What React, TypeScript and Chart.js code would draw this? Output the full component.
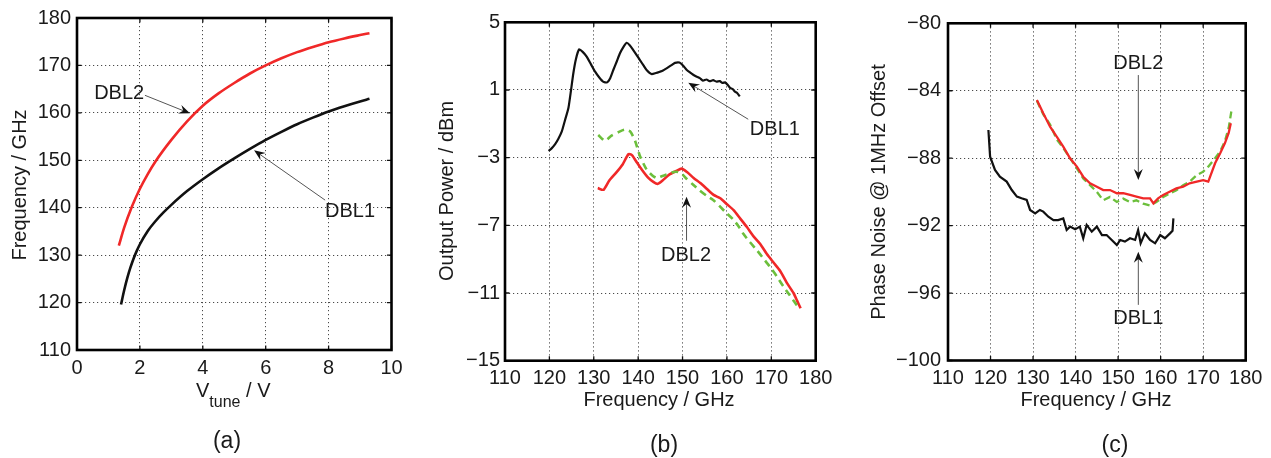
import React, { useEffect, useRef } from 'react';
import { Chart, registerables } from 'chart.js';

Chart.register(...registerables);

const FONT = '"Liberation Sans", Arial, Helvetica, sans-serif';
const TXT = '#1a1a1a';
const RED = '#f02828';
const GREEN = '#6cbf3c';
const BLACK = '#111111';
const GRID = '#4a4a4a';

// ---------- Panel (a): tuning curves ----------
const aXTicks = [0, 2, 4, 6, 8, 10];
const aYTicks = [110, 120, 130, 140, 150, 160, 170, 180];
const aDBL1V = [1.4, 1.5, 1.6, 1.7, 1.8, 1.9, 2.0, 2.25, 2.5, 2.75, 3.0, 3.5, 4.0, 4.5, 5.0, 5.5, 6.0, 6.5, 7.0, 7.5, 8.0, 8.5, 9.0, 9.3];
const aDBL1F = [119.6, 122.6, 125.2, 127.4, 129.3, 130.9, 132.3, 135.1, 137.2, 139.0, 140.6, 143.5, 146.0, 148.3, 150.4, 152.4, 154.3, 156.0, 157.6, 159.0, 160.3, 161.4, 162.4, 162.95];
const aDBL2V = [1.33, 1.5, 1.75, 2.0, 2.25, 2.5, 3.0, 3.5, 4.0, 4.5, 5.0, 5.5, 6.0, 6.5, 7.0, 7.5, 8.0, 8.5, 9.0, 9.3];
const aDBL2F = [132.0, 135.8, 140.3, 144.0, 147.1, 149.8, 154.3, 158.2, 161.5, 164.1, 166.3, 168.3, 170.0, 171.5, 172.8, 173.9, 174.9, 175.7, 176.4, 176.8];
const aNotes = [
  { text: 'DBL2', x: 1.34, y: 164.1, from: [2.16, 163.7], to: [3.59, 159.9] },
  { text: 'DBL1', x: 8.68, y: 139.1, from: [7.89, 141.6], to: [5.63, 152.1] },
];

// ---------- Panel (b): output power ----------
const freqTicks = [110, 120, 130, 140, 150, 160, 170, 180];
const bYTicks = [-15, -11, -7, -3, 1, 5];
const bDBL1F = [119.8, 120.5, 121.3, 122.0, 122.8, 123.5, 124.3, 125.4, 126.0, 126.7, 127.5, 128.4, 129.4, 130.3, 131.2, 132.1, 133.0,
  133.7, 134.4, 135.2, 135.9, 136.7, 137.4, 138.1, 138.9, 139.7, 140.4, 141.2, 141.9, 143.0, 144.0, 144.9, 145.6, 146.4, 147.4, 148.3, 149.3,
  150.1, 150.9, 151.6, 152.4, 153.1, 153.9, 154.6, 155.4, 156.1, 156.9, 157.6, 158.4, 159.0, 159.6, 160.2, 160.7, 161.3, 161.8, 162.3, 162.9];
const bDBL1P = [-2.6, -2.45, -2.2, -1.9, -1.45, -0.8, -0.05, 1.99, 2.85, 3.4, 3.25, 2.97, 2.5, 2.08, 1.75, 1.49, 1.45,
  1.7, 2.18, 2.7, 3.17, 3.55, 3.79, 3.65, 3.36, 3.05, 2.77, 2.45, 2.18, 1.94, 2.0, 2.08, 2.15, 2.28, 2.45, 2.6, 2.62,
  2.45, 2.2, 2.05, 1.9, 1.8, 1.7, 1.55, 1.62, 1.52, 1.58, 1.5, 1.52, 1.42, 1.45, 1.3, 1.12, 1.05, 0.9, 0.82, 0.62];
const bDBL2F = [130.9, 132.2, 133.5, 135.0, 136.5, 137.8, 138.6, 139.5, 140.8, 142.3, 143.5, 144.4, 145.5, 147.0, 148.5, 149.8, 151.0,
  152.5, 154.0, 155.5, 157.0, 158.5, 160.0, 161.5, 163.0, 164.5, 166.0, 167.5, 169.0, 170.5, 172.0, 173.5, 175.0, 175.8, 176.6];
const bDBL2P = [-4.8, -4.9, -4.35, -3.9, -3.4, -2.8, -2.85, -3.2, -3.7, -4.2, -4.45, -4.55, -4.35, -4.0, -3.8, -3.65, -3.85,
  -4.2, -4.5, -4.85, -5.2, -5.4, -5.75, -6.1, -6.6, -7.1, -7.65, -8.1, -8.7, -9.2, -9.7, -10.4, -11.0, -11.45, -11.9];
const bSimF = [131.0, 132.5, 134.0, 135.5, 136.9, 138.2, 139.3, 140.4, 141.9, 143.2, 144.2, 145.3, 146.4, 148.0, 149.0, 150.0, 150.9,
  152.4, 153.9, 155.4, 156.9, 158.3, 159.6, 161.4, 162.6, 163.7, 165.2, 166.7, 168.2, 169.7, 171.2, 172.7, 174.2, 175.7, 176.4];
const bSimP = [-1.66, -2.0, -1.7, -1.5, -1.35, -1.45, -2.0, -2.9, -3.7, -4.05, -4.2, -4.1, -4.0, -3.85, -3.85, -4.0, -4.25,
  -4.6, -4.95, -5.25, -5.5, -5.85, -6.2, -6.65, -7.05, -7.5, -8.0, -8.45, -8.95, -9.45, -10.0, -10.6, -11.15, -11.7, -11.9];
const bNotes = [
  { text: 'DBL1', x: 170.8, y: -1.31, from: [164.8, -0.73], to: [151.3, 1.43] },
  { text: 'DBL2', x: 150.8, y: -8.81, from: [150.9, -7.91], to: [150.9, -5.31] },
];

// ---------- Panel (c): phase noise ----------
const cYTicks = [-100, -96, -92, -88, -84, -80];
const cDBL1F = [119.5, 119.9, 121.05, 122.2, 123.8, 125.0, 126.2, 127.3, 128.5, 129.3, 130.5, 131.6, 132.4, 133.6, 134.8, 135.9, 137.1,
  137.9, 138.7, 139.9, 141.0, 141.8, 142.6, 143.8, 145.0, 146.2, 147.3, 148.5, 149.7, 150.5, 151.6, 152.8, 154.0, 154.7, 155.3, 156.3,
  157.5, 158.7, 159.9, 161.0, 162.2, 162.8, 163.0];
const cDBL1N = [-86.33, -87.91, -88.7, -89.1, -89.39, -89.89, -90.28, -90.38, -90.48, -91.07, -91.27, -91.07, -91.17, -91.47, -91.67, -91.67, -91.57,
  -92.26, -92.06, -92.22, -92.06, -92.75, -91.96, -92.36, -92.06, -92.56, -92.56, -92.85, -93.15, -92.85, -92.95, -92.75, -92.85, -92.26, -93.05, -92.46,
  -92.85, -93.05, -92.56, -92.75, -92.46, -92.3, -91.57];
const cDBL2F = [130.9, 132.4, 134.0, 135.6, 137.1, 138.7, 140.3, 141.8, 143.4, 145.0, 146.5, 148.1, 149.7, 151.2, 152.8, 154.3, 155.9,
  157.5, 158.3, 159.4, 160.6, 162.1, 163.7, 165.3, 166.8, 168.5, 170.0, 171.2, 172.8, 174.0, 175.1, 176.0, 176.5];
const cDBL2N = [-84.55, -85.34, -86.13, -86.73, -87.32, -88.01, -88.5, -89.1, -89.49, -89.69, -89.89, -89.89, -90.08, -90.08, -90.18, -90.28, -90.38,
  -90.38, -90.68, -90.38, -90.18, -89.99, -89.79, -89.69, -89.49, -89.39, -89.3, -89.39, -88.3, -87.71, -87.12, -86.5, -85.93];
const cSimF = [130.9, 132.4, 134.0, 135.6, 137.1, 138.7, 140.3, 141.8, 143.4, 145.0, 146.5, 148.1, 149.7, 151.2, 152.8, 154.3, 155.9,
  157.5, 159.0, 160.6, 162.1, 163.7, 165.3, 166.8, 168.5, 170.0, 171.2, 172.8, 174.0, 175.1, 176.0, 176.7];
const cSimN = [-84.6, -85.4, -86.0, -86.9, -87.4, -88.0, -88.6, -89.2, -89.6, -90.0, -90.5, -90.3, -90.6, -90.4, -90.6, -90.5, -90.7,
  -90.8, -90.6, -90.3, -90.1, -89.9, -89.6, -89.4, -89.0, -88.8, -88.5, -88.0, -87.6, -87.0, -86.2, -85.1];
const cNotes = [
  { text: 'DBL2', x: 154.75, y: -82.4, from: [154.75, -83.07], to: [154.75, -89.29] },
  { text: 'DBL1', x: 154.75, y: -97.5, from: [154.75, -96.7], to: [154.75, -93.55] },
];

const pts = (xs: number[], ys: number[]) => xs.map((x, i) => ({ x, y: ys[i] }));
const fmt = (v: number) => String(v).replace('-', '\u2212');

type Note = { text: string; x: number; y: number; from: number[]; to: number[] };
type Panel = {
  width: number;
  yWidth: number;
  xHeight: number;
  padTop: number;
  padRight: number;
  xMin: number; xMax: number; xTicks: number[];
  yMin: number; yMax: number; yTicks: number[];
  xPad: number; yPad: number;
  datasets: any[];
  notes: Note[];
  yTitle: string; yTitleX: number; yTitleY: number;
  xTitleY: number; xTitleX: number; xTitle: string | null;
  caption: string; capX: number; capY: number;
};

function drawArrow(ctx: CanvasRenderingContext2D, x0: number, y0: number, x1: number, y1: number) {
  const ang = Math.atan2(y1 - y0, x1 - x0);
  const c = Math.cos(ang), s = Math.sin(ang);
  const L = 11, W = 4.5;
  ctx.save();
  ctx.strokeStyle = '#555';
  ctx.lineWidth = 1;
  ctx.beginPath();
  ctx.moveTo(x0, y0);
  ctx.lineTo(x1 - c * L * 0.6, y1 - s * L * 0.6);
  ctx.stroke();
  ctx.fillStyle = '#111';
  ctx.beginPath();
  ctx.moveTo(x1, y1);
  ctx.lineTo(x1 - L * c - W * s, y1 - L * s + W * c);
  ctx.lineTo(x1 - 0.65 * L * c, y1 - 0.65 * L * s);
  ctx.lineTo(x1 - L * c + W * s, y1 - L * s - W * c);
  ctx.closePath();
  ctx.fill();
  ctx.restore();
}

function makeDeco(p: Panel) {
  return {
    id: 'deco',
    afterDraw(chart: any) {
      const ctx: CanvasRenderingContext2D = chart.ctx;
      const a = chart.chartArea;
      const xs = chart.scales.x;
      const ys = chart.scales.y;
      ctx.save();
      // inner tick marks
      ctx.strokeStyle = '#111';
      ctx.lineWidth = 1.3;
      const tl = 4.5;
      p.xTicks.forEach((v) => {
        const px = xs.getPixelForValue(v);
        ctx.beginPath();
        ctx.moveTo(px, a.bottom); ctx.lineTo(px, a.bottom - tl);
        ctx.moveTo(px, a.top); ctx.lineTo(px, a.top + tl);
        ctx.stroke();
      });
      p.yTicks.forEach((v) => {
        const py = ys.getPixelForValue(v);
        ctx.beginPath();
        ctx.moveTo(a.left, py); ctx.lineTo(a.left + tl, py);
        ctx.moveTo(a.right, py); ctx.lineTo(a.right - tl, py);
        ctx.stroke();
      });
      // frame
      ctx.strokeStyle = '#000';
      ctx.lineWidth = 2.6;
      ctx.strokeRect(a.left, a.top, a.right - a.left, a.bottom - a.top);

      // annotations
      p.notes.forEach((n) => {
        drawArrow(ctx, xs.getPixelForValue(n.from[0]), ys.getPixelForValue(n.from[1]),
          xs.getPixelForValue(n.to[0]), ys.getPixelForValue(n.to[1]));
        ctx.fillStyle = TXT;
        ctx.font = `20px ${FONT}`;
        ctx.textAlign = 'center';
        ctx.textBaseline = 'middle';
        ctx.fillText(n.text, xs.getPixelForValue(n.x), ys.getPixelForValue(n.y));
      });

      ctx.fillStyle = TXT;
      // y title
      ctx.save();
      ctx.translate(p.yTitleX, p.yTitleY);
      ctx.rotate(-Math.PI / 2);
      ctx.textAlign = 'center';
      ctx.textBaseline = 'alphabetic';
      ctx.font = `20px ${FONT}`;
      ctx.fillText(p.yTitle, 0, 0);
      ctx.restore();

      // x title
      ctx.textBaseline = 'alphabetic';
      if (p.xTitle) {
        ctx.textAlign = 'center';
        ctx.font = `20px ${FONT}`;
        ctx.fillText(p.xTitle, p.xTitleX, p.xTitleY);
      } else {
        ctx.textAlign = 'left';
        let x = p.xTitleX;
        ctx.font = `20px ${FONT}`;
        ctx.fillText('V', x, p.xTitleY);
        x += ctx.measureText('V').width;
        ctx.font = `16px ${FONT}`;
        ctx.fillText('tune', x, p.xTitleY + 9.5);
        x += ctx.measureText('tune').width;
        ctx.font = `20px ${FONT}`;
        ctx.fillText(' / V', x, p.xTitleY);
      }

      // caption
      ctx.textAlign = 'center';
      ctx.font = `23px ${FONT}`;
      ctx.fillText(p.caption, p.capX, p.capY);
      ctx.restore();
    },
  };
}

function build(canvas: HTMLCanvasElement, p: Panel) {
  const tickFont = { family: FONT, size: 20 };
  return new Chart(canvas, {
    type: 'line',
    data: { datasets: p.datasets },
    options: {
      animation: false,
      responsive: false,
      devicePixelRatio: 1,
      layout: { padding: { top: p.padTop, right: p.padRight, left: 0, bottom: 0 } },
      plugins: { legend: { display: false }, tooltip: { enabled: false }, title: { display: false } },
      elements: { point: { radius: 0 } },
      scales: {
        x: {
          type: 'linear',
          min: p.xMin,
          max: p.xMax,
          afterBuildTicks: (s: any) => { s.ticks = p.xTicks.map((v) => ({ value: v })); },
          afterFit: (s: any) => { s.height = p.xHeight; },
          grid: { color: GRID, lineWidth: 1, drawTicks: false },
          border: { display: false, dash: [1.2, 2.8] },
          ticks: {
            autoSkip: false, maxRotation: 0, minRotation: 0, padding: p.xPad,
            font: tickFont, color: TXT,
            callback: (v: any) => fmt(Number(v)),
          },
        },
        y: {
          type: 'linear',
          min: p.yMin,
          max: p.yMax,
          afterBuildTicks: (s: any) => { s.ticks = p.yTicks.map((v) => ({ value: v })); },
          afterFit: (s: any) => { s.width = p.yWidth; },
          grid: { color: GRID, lineWidth: 1, drawTicks: false },
          border: { display: false, dash: [1.2, 2.8] },
          ticks: {
            autoSkip: false, padding: p.yPad,
            font: tickFont, color: TXT,
            callback: (v: any) => fmt(Number(v)),
          },
        },
      },
    } as any,
    plugins: [makeDeco(p) as any],
  });
}

const line = (data: any[], color: string, width: number, extra: any = {}) => ({
  data, borderColor: color, borderWidth: width, pointRadius: 0, fill: false, tension: 0, ...extra,
});

const panelA: Panel = {
  width: 420, yWidth: 77, xHeight: 108, padTop: 16, padRight: 28.5,
  xMin: 0, xMax: 10, xTicks: aXTicks, yMin: 110, yMax: 180, yTicks: aYTicks,
  xPad: 6, yPad: 6,
  datasets: [
    line(pts(aDBL2V, aDBL2F), RED, 2.6, { cubicInterpolationMode: 'monotone' }),
    line(pts(aDBL1V, aDBL1F), BLACK, 2.6, { cubicInterpolationMode: 'monotone' }),
  ],
  notes: aNotes,
  yTitle: 'Frequency / GHz', yTitleX: 26, yTitleY: 185,
  xTitle: null, xTitleX: 196, xTitleY: 397,
  caption: '(a)', capX: 227, capY: 447.5,
};

const panelB: Panel = {
  width: 420, yWidth: 85, xHeight: 97.3, padTop: 22.3, padRight: 24.3,
  xMin: 110, xMax: 180, xTicks: freqTicks, yMin: -15, yMax: 5, yTicks: bYTicks,
  xPad: 5.5, yPad: 5,
  datasets: [
    line(pts(bSimF, bSimP), GREEN, 2.6, { borderDash: [7, 5], tension: 0.2 }),
    line(pts(bDBL2F, bDBL2P), RED, 2.6, { tension: 0.2 }),
    line(pts(bDBL1F, bDBL1P), BLACK, 2.2, { tension: 0.2 }),
  ],
  notes: bNotes,
  yTitle: 'Output Power / dBm', yTitleX: 33, yTitleY: 191,
  xTitle: 'Frequency / GHz', xTitleX: 239, xTitleY: 406,
  caption: '(b)', capX: 244, capY: 452,
};

const panelC: Panel = {
  width: 431, yWidth: 108, xHeight: 97.5, padTop: 23.3, padRight: 25.3,
  xMin: 110, xMax: 180, xTicks: freqTicks, yMin: -100, yMax: -80, yTicks: cYTicks,
  xPad: 5.8, yPad: 7,
  datasets: [
    line(pts(cDBL2F, cDBL2N), RED, 2.3),
    line(pts(cSimF, cSimN), GREEN, 2.3, { borderDash: [7, 4] }),
    line(pts(cDBL1F, cDBL1N), BLACK, 2.2),
  ],
  notes: cNotes,
  yTitle: 'Phase Noise @ 1MHz Offset', yTitleX: 45, yTitleY: 192,
  xTitle: 'Frequency / GHz', xTitleX: 256, xTitleY: 406,
  caption: '(c)', capX: 275, capY: 452,
};

export default function App() {
  const ra = useRef<HTMLCanvasElement>(null);
  const rb = useRef<HTMLCanvasElement>(null);
  const rc = useRef<HTMLCanvasElement>(null);

  useEffect(() => {
    const charts = [
      build(ra.current as HTMLCanvasElement, panelA),
      build(rb.current as HTMLCanvasElement, panelB),
      build(rc.current as HTMLCanvasElement, panelC),
    ];
    return () => charts.forEach((c) => c.destroy());
  }, []);

  return (
    <div style={{ position: 'absolute', left: 0, top: 0, width: 1271, height: 458, background: '#fff', overflow: 'hidden' }}>
      <canvas ref={ra} width={420} height={458} style={{ position: 'absolute', left: 0, top: 0, width: 420, height: 458 }} />
      <canvas ref={rb} width={420} height={458} style={{ position: 'absolute', left: 420, top: 0, width: 420, height: 458 }} />
      <canvas ref={rc} width={431} height={458} style={{ position: 'absolute', left: 840, top: 0, width: 431, height: 458 }} />
    </div>
  );
}
